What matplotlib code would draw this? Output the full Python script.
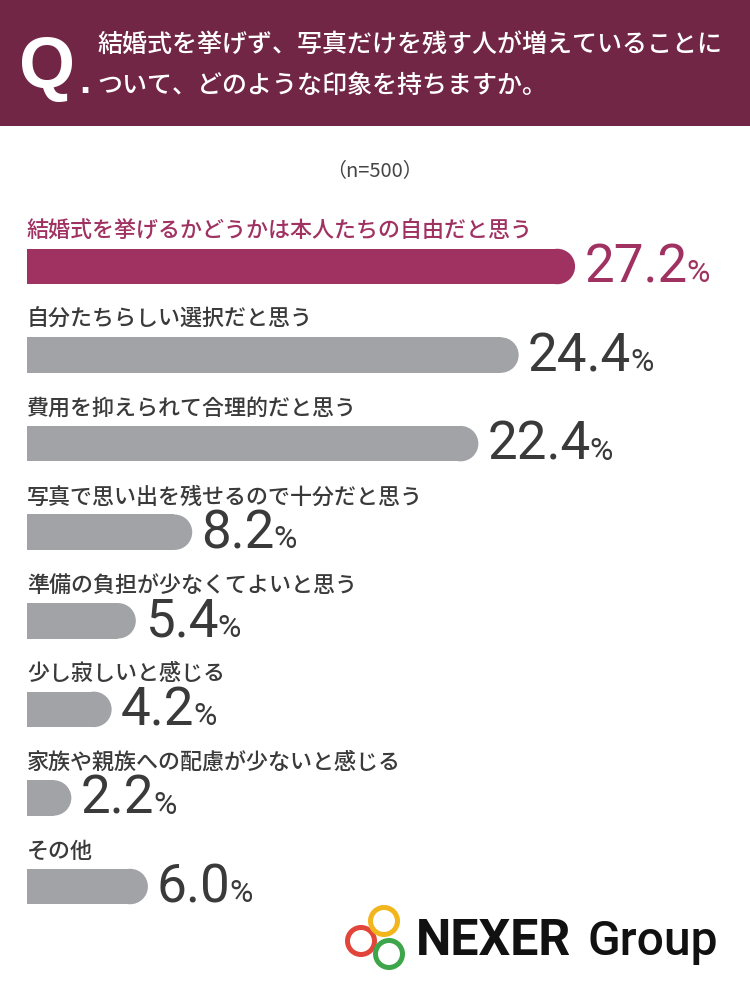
import matplotlib
matplotlib.use("Agg")
import matplotlib.pyplot as plt
from matplotlib.patches import Rectangle, Ellipse, Circle

# data
question = ["結婚式を挙げず、写真だけを残す人が増えていることに",
            "ついて、どのような印象を持ちますか。"]
sample = "（n=500）"
categories = [
    "結婚式を挙げるかどうかは本人たちの自由だと思う",
    "自分たちらしい選択だと思う",
    "費用を抑えられて合理的だと思う",
    "写真で思い出を残せるので十分だと思う",
    "準備の負担が少なくてよいと思う",
    "少し寂しいと感じる",
    "家族や親族への配慮が少ないと感じる",
    "その他",
]
values = [27.2, 24.4, 22.4, 8.2, 5.4, 4.2, 2.2, 6.0]

HEADER = "#722646"
HIGHLIGHT = "#A03262"
GRAY = "#A2A3A7"
DARK = "#3A3A3A"
CJK = ["Noto Sans CJK JP", "DejaVu Sans"]
NUM = ["Roboto", "DejaVu Sans"]

DPI = 100


def px(v):
    # pixel size -> points
    return v * 72 / DPI


fig = plt.figure(figsize=(7.5, 10), dpi=DPI)
fig.patch.set_facecolor("white")

# background layer in pixel coordinates
bg = fig.add_axes([0, 0, 1, 1])
bg.set_xlim(0, 750)
bg.set_ylim(1000, 0)
bg.axis("off")

bg.add_patch(Rectangle((0, 0), 750, 126, color=HEADER, lw=0))
bg.text(19, 88, "Q", color="white", fontsize=px(72), fontweight="bold",
        family=["Liberation Sans", "DejaVu Sans"], va="baseline")
bg.text(79, 93, ".", color="white", fontsize=px(40), fontweight="bold",
        family=["Liberation Sans", "DejaVu Sans"], va="baseline")
bg.text(97, 45, question[0], color="white", fontsize=px(25), family=CJK,
        fontweight="medium", va="center")
bg.text(97, 86, question[1], color="white", fontsize=px(25), family=CJK,
        fontweight="medium", va="center")
bg.text(374, 172, sample, color="#444444", fontsize=px(20), family=CJK,
        ha="center", va="center")

# logo
for (cx, cy), c in zip([(361, 941), (384, 921), (389, 954)],
                       ["#E2453A", "#F2B51C", "#3DA64A"]):
    bg.add_patch(Circle((cx, cy), 13.5, fill=False, ec=c, lw=px(5)))
bg.text(416, 955, "NEXER", color="#111111", fontsize=px(50), family=NUM,
        fontweight="bold", va="baseline")
bg.text(587, 955, "Group", color="#111111", fontsize=px(48), family=NUM,
        fontweight="medium", va="baseline")

# bars
scale = 20.15          # px per percent
xmax = 35
ax = fig.add_axes([27 / 750, 1 - 930.8 / 1000, xmax * scale / 750, 708.6 / 1000])
ax.set_xlim(0, xmax)
ax.set_ylim(7.5, -0.5)
ax.axis("off")
ax.patch.set_alpha(0)

bh = 0.40
rx = 17.75 / scale
nums = []
for i, (cat, v) in enumerate(zip(categories, values)):
    col = HIGHLIGHT if i == 0 else GRAY
    tcol = HIGHLIGHT if i == 0 else DARK
    ax.barh(i, v - rx, height=bh, color=col, lw=0)
    ax.add_patch(Ellipse((v - rx, i), 2 * rx, bh, color=col, lw=0))
    ax.text(0, i - 0.40, cat, va="center", ha="left", fontsize=px(22),
            family=CJK, fontweight="medium", color=tcol)
    t = ax.text(v + 0.45, i + 0.18, f"{v:.1f}", va="baseline", ha="left",
                fontsize=px(53), family=NUM, fontweight="normal", color=tcol)
    nums.append((t, i, tcol))

fig.canvas.draw()
r = fig.canvas.get_renderer()
inv = ax.transData.inverted()
for t, i, tcol in nums:
    bb = t.get_window_extent(r)
    x1 = inv.transform((bb.x1, bb.y0))[0]
    ax.text(x1 - 0.05, i + 0.18, "%", va="baseline", ha="left",
            fontsize=px(32), family=NUM, color=tcol)

fig.savefig("out.png", dpi=DPI)
